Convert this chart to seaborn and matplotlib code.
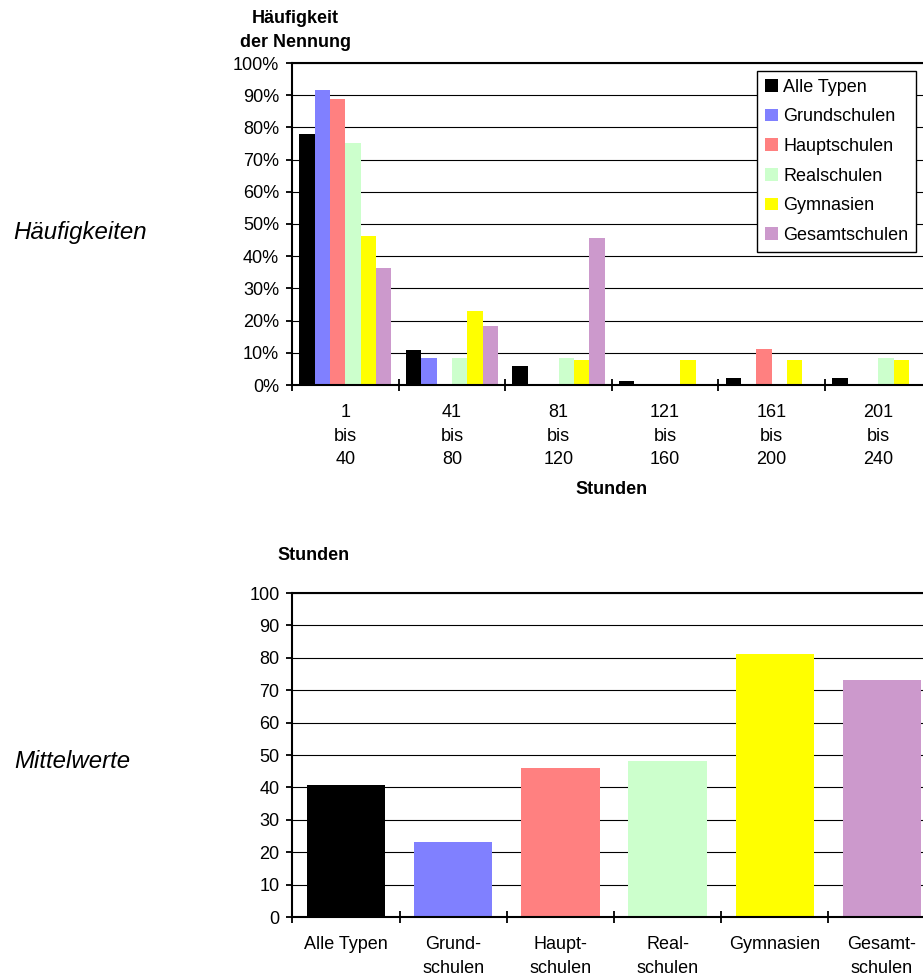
import matplotlib
matplotlib.use("Agg")
import matplotlib.pyplot as plt
import seaborn as sns
import pandas as pd
from matplotlib.ticker import FixedLocator, PercentFormatter, MultipleLocator

# ---------------- data ----------------
bins = ["1\nbis\n40", "41\nbis\n80", "81\nbis\n120",
        "121\nbis\n160", "161\nbis\n200", "201\nbis\n240"]
types = ["Alle Typen", "Grundschulen", "Hauptschulen",
         "Realschulen", "Gymnasien", "Gesamtschulen"]
colors = ["#000000", "#8080FF", "#FF8080", "#CCFFCC", "#FFFF00", "#CC99CC"]

alle = [77.8, 11.0, 6.0, 1.1, 2.1, 2.1]
grund = [91.7, 8.3, 0.0, 0.0, 0.0, 0.0]
haupt = [88.9, 0.0, 0.0, 0.0, 11.1, 0.0]
real = [75.0, 8.3, 8.3, 0.0, 0.0, 8.3]
gym = [46.2, 23.1, 7.7, 7.7, 7.7, 7.7]
gesamt = [36.4, 18.2, 45.5, 0.0, 0.0, 0.0]

mean_labels = ["Alle Typen", "Grund-\nschulen", "Haupt-\nschulen",
               "Real-\nschulen", "Gymnasien", "Gesamt-\nschulen"]
means = [40.8, 23.3, 45.9, 48.3, 81.3, 73.0]

# ---------------- style ----------------
sns.set_style("white")
plt.rcParams["font.family"] = ["Liberation Sans", "DejaVu Sans"]
for k in ["text.color", "axes.labelcolor", "xtick.color", "ytick.color"]:
    plt.rcParams[k] = "black"
FS = 13
LS = 1.5

W, H = 923, 974
fig = plt.figure(figsize=(W / 100, H / 100), dpi=100)

def frac_axes(x0, y0, x1, y1):
    return fig.add_axes([x0 / W, 1 - y1 / H, (x1 - x0) / W, (y1 - y0) / H])

def style_axes(ax, labels):
    for s in ["left", "bottom", "top"]:
        ax.spines[s].set_visible(True)
        ax.spines[s].set_color("black")
        ax.spines[s].set_linewidth(1.5)
    ax.spines["right"].set_visible(False)
    ax.yaxis.grid(True, color="black", linewidth=0.8)
    ax.xaxis.grid(False)
    ax.set_axisbelow(True)
    ax.set_xlim(-0.5, 5.5)
    ax.set_xticks(range(len(labels)))
    ax.set_xticklabels(labels, linespacing=LS, fontsize=FS)
    ax.xaxis.set_minor_locator(FixedLocator([i - 0.5 for i in range(7)]))
    ax.tick_params(axis="x", which="major", length=0, pad=14)
    ax.tick_params(axis="x", which="minor", direction="inout", length=8,
                   width=1.3, color="black", bottom=True)
    ax.tick_params(axis="y", which="major", direction="out", length=4.3,
                   width=1.3, color="black", left=True, pad=5, labelsize=FS)

# ---------------- top chart ----------------
series = [alle, grund, haupt, real, gym, gesamt]
rows = []
for t, vals in zip(types, series):
    for b, v in zip(bins, vals):
        rows.append({"Stunden": b, "Typ": t, "Anteil": v})
df_top = pd.DataFrame(rows)

ax1 = frac_axes(292, 63, 931.6, 385)
sns.barplot(data=df_top, x="Stunden", y="Anteil", hue="Typ",
            order=bins, hue_order=types, palette=colors, saturation=1,
            width=0.865, linewidth=0, errorbar=None, ax=ax1)
ax1.set_ylim(0, 100)
ax1.yaxis.set_major_locator(MultipleLocator(10))
ax1.yaxis.set_major_formatter(PercentFormatter(xmax=100, decimals=0))
style_axes(ax1, bins)
ax1.set_ylabel("")
ax1.set_xlabel("Stunden", fontsize=FS, fontweight="bold", labelpad=9)

handles, labels = ax1.get_legend_handles_labels()
leg = ax1.legend(handles, labels, loc="upper left",
                 bbox_to_anchor=(757 / W, 1 - 70.7 / H),
                 bbox_transform=fig.transFigure, borderaxespad=0,
                 fontsize=FS, frameon=True, fancybox=False, framealpha=1,
                 edgecolor="black", handlelength=0.7, handleheight=0.7,
                 handletextpad=0.3, labelspacing=0.70, borderpad=0.45)
leg.get_frame().set_linewidth(1.0)

fig.text(295 / W, 1 - 30.5 / H, "Häufigkeit\nder Nennung", ha="center",
         va="center", fontsize=FS, fontweight="bold", linespacing=LS)
fig.text(13 / W, 1 - 233 / H, "Häufigkeiten", ha="left", va="center",
         fontsize=17.3, fontstyle="italic")

# ---------------- bottom chart ----------------
df_bot = pd.DataFrame({"Typ": mean_labels, "Stunden": means})
ax2 = frac_axes(292.4, 593, 935.6, 917)
sns.barplot(data=df_bot, x="Typ", y="Stunden", hue="Typ", order=mean_labels,
            hue_order=mean_labels, palette=colors, saturation=1, width=0.73,
            linewidth=0, errorbar=None, legend=False, ax=ax2)
ax2.set_ylim(0, 100)
ax2.yaxis.set_major_locator(MultipleLocator(10))
style_axes(ax2, mean_labels)
ax2.set_ylabel("")
ax2.set_xlabel("")

fig.text(313.7 / W, 1 - 556 / H, "Stunden", ha="center", va="center",
         fontsize=FS, fontweight="bold")
fig.text(14 / W, 1 - 762 / H, "Mittelwerte", ha="left", va="center",
         fontsize=17.3, fontstyle="italic")

fig.savefig("out.png", dpi=100)
